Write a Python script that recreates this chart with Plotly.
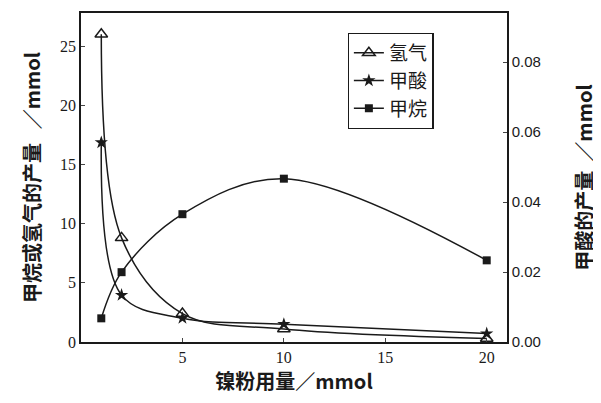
import plotly.graph_objects as go

x_ni = [1, 2, 5, 10, 20]
h2 = [26.0, 8.8, 2.4, 1.1, 0.3]
ch4 = [2.0, 5.9, 10.8, 13.8, 6.9]
hcooh = [0.057, 0.0134, 0.0068, 0.0051, 0.0024]

names = ["氢气", "甲酸", "甲烷"]
x_ticks = [5, 10, 15, 20]
y1_ticks = [0, 5, 10, 15, 20, 25]
y2_ticks = [0.00, 0.02, 0.04, 0.06, 0.08]

ink = "#1a1a1a"
num_font = dict(family="Liberation Serif, Times New Roman, serif", size=16, color=ink)
title_font = dict(family="Noto Sans CJK JP", size=20, color=ink, weight=700)

fig = go.Figure()
fig.add_trace(go.Scatter(
    x=x_ni, y=h2, name=names[0], mode="lines+markers",
    line=dict(color=ink, width=1.5, shape="spline", smoothing=1.0),
    marker=dict(symbol="triangle-up-open", size=11, color=ink, line=dict(width=1.5, color=ink)),
))
fig.add_trace(go.Scatter(
    x=x_ni, y=hcooh, name=names[1], mode="lines+markers", yaxis="y2",
    line=dict(color=ink, width=1.5, shape="spline", smoothing=1.0),
    marker=dict(symbol="star", size=10, color=ink),
))
fig.add_trace(go.Scatter(
    x=x_ni, y=ch4, name=names[2], mode="lines+markers",
    line=dict(color=ink, width=1.5, shape="spline", smoothing=1.0),
    marker=dict(symbol="square", size=8, color=ink),
))

fig.update_layout(
    width=593, height=395,
    margin=dict(l=73, r=94, t=5, b=61),
    paper_bgcolor="white", plot_bgcolor="white",
    showlegend=True,
    legend=dict(
        x=0.626, y=0.94, xanchor="left", yanchor="top",
        bordercolor=ink, borderwidth=1.2, bgcolor="white",
        font=dict(family="Noto Sans CJK SC", size=19, color=ink),
        tracegroupgap=0, itemwidth=30,
    ),
    xaxis=dict(
        range=[0, 21], tickvals=x_ticks, ticks="inside", ticklen=4,
        showline=True, mirror=True, linecolor=ink, linewidth=1.5,
        showgrid=False, zeroline=False, tickfont=num_font, automargin=False,
        title=dict(text="镍粉用量／mmol", font=title_font, standoff=8),
    ),
    yaxis=dict(
        range=[0, 27.8], tickvals=y1_ticks, ticks="inside", ticklen=4,
        showline=True, mirror=True, linecolor=ink, linewidth=1.5,
        showgrid=False, zeroline=False, tickfont=num_font, automargin=False,
        title=dict(text="甲烷或氢气的产量   ／mmol", font=title_font, standoff=14),
    ),
    yaxis2=dict(
        range=[0, 0.094], tickvals=y2_ticks, tickformat=".2f", overlaying="y", side="right",
        ticks="inside", ticklen=4, showline=True, linecolor=ink, linewidth=1.5,
        showgrid=False, zeroline=False, automargin=False,
        tickfont=dict(family="Liberation Sans Narrow, Liberation Sans", size=15, color=ink),
        title=dict(text="甲酸的产量  ／mmol      ", font=title_font, standoff=38),
    ),
)

fig.write_html("out.html")
